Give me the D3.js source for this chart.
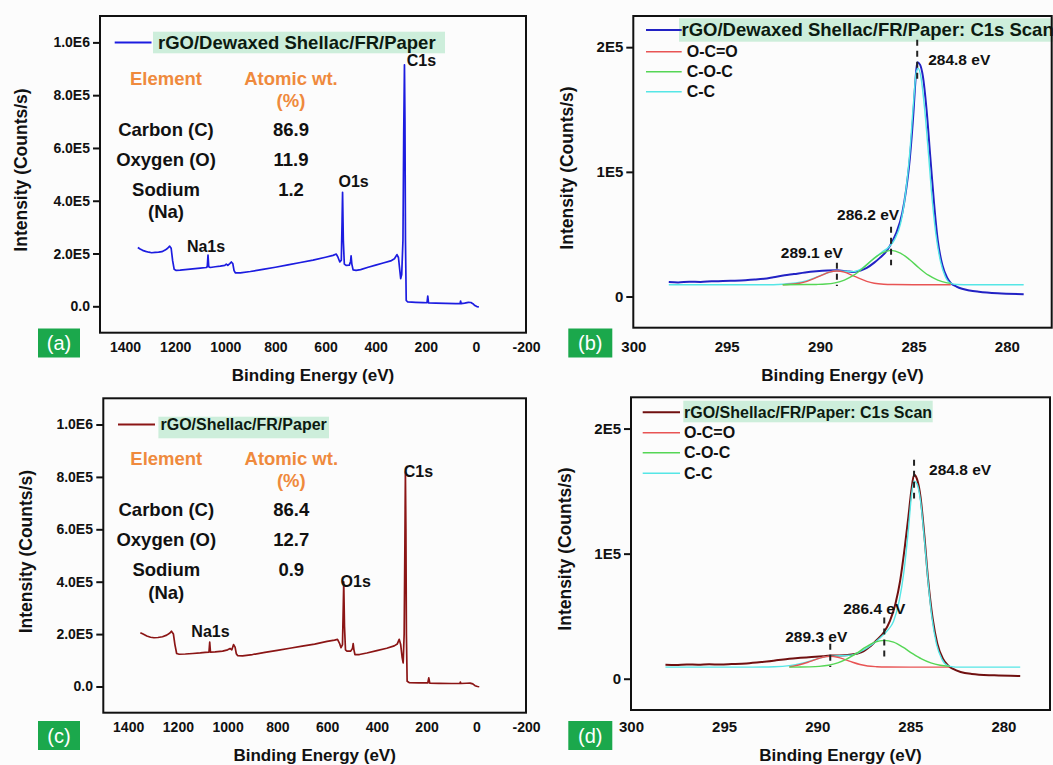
<!DOCTYPE html>
<html>
<head>
<meta charset="utf-8">
<script src="https://cdn.jsdelivr.net/npm/d3@7"></script>
<style>
  html, body { margin: 0; padding: 0; background: #fcfcfc; }
  svg { display: block; font-family: "Liberation Sans", Arial, sans-serif; }
</style>
</head>
<body>
<svg id="fig" width="1053" height="765"></svg>
<script>
// ---------- Survey spectra: [binding energy (eV), intensity (counts/s)] ----------
const surveyDewaxed = [
  [1349,2.23e5],[1340,2.17e5],[1330,2.12e5],[1318,2.08e5],[1305,2.05e5],[1294,2.03e5],[1280,2.04e5],
  [1266,2.05e5],[1253,2.07e5],[1240,2.13e5],[1230,2.2e5],[1222,2.28e5],[1216,2.2e5],[1210,1.72e5],
  [1204,1.4e5],[1196,1.36e5],[1180,1.37e5],[1160,1.39e5],[1140,1.41e5],[1120,1.43e5],[1100,1.45e5],
  [1076,1.47e5],[1072,1.5e5],[1069,1.94e5],[1066,1.5e5],[1060,1.47e5],[1040,1.5e5],[1020,1.52e5],
  [1002,1.55e5],[996,1.6e5],[990,1.55e5],[982,1.62e5],[976,1.68e5],[970,1.62e5],[965,1.35e5],
  [960,1.27e5],[940,1.27e5],[900,1.32e5],[850,1.4e5],[800,1.48e5],[750,1.57e5],[700,1.66e5],
  [650,1.75e5],[600,1.86e5],[570,1.93e5],[557,1.98e5],[550,1.85e5],[543,1.68e5],[537,1.75e5],
  [534,3.2e5],[532,4.32e5],[529,2.5e5],[525,1.6e5],[518,1.55e5],[505,1.56e5],[500,1.7e5],
  [498,1.91e5],[495,1.6e5],[490,1.38e5],[478,1.36e5],[460,1.39e5],[430,1.48e5],[400,1.56e5],
  [370,1.64e5],[340,1.72e5],[325,1.8e5],[315,1.96e5],[309,1.85e5],[304,1.4e5],[300,1.05e5],
  [296,1.2e5],[291,2.5e5],[288,6.5e5],[285,9.15e5],[283,7.0e5],[281,2.5e5],[278,2.2e4],
  [272,1.65e4],[240,1.5e4],[210,1.4e4],[195,1.35e4],[192,3.9e4],[189,1.3e4],[160,1.2e4],
  [120,1.1e4],[80,1.05e4],[63,1.0e4],[61,2.0e4],[59,1.0e4],[45,1.2e4],[30,1.5e4],[20,1.45e4],
  [12,1.0e4],[4,3e3],[-4,-1e3],[-12,-2.5e3]
];
const surveyShellac = [
  [1351,2.05e5],[1340,2.0e5],[1325,1.93e5],[1310,1.88e5],[1296,1.86e5],[1280,1.87e5],[1262,1.9e5],
  [1245,1.96e5],[1232,2.04e5],[1226,2.11e5],[1218,2.0e5],[1212,1.6e5],[1205,1.26e5],[1195,1.23e5],
  [1170,1.24e5],[1140,1.26e5],[1110,1.28e5],[1090,1.3e5],[1075,1.31e5],[1072,1.69e5],[1069,1.31e5],
  [1050,1.32e5],[1020,1.35e5],[1000,1.4e5],[990,1.45e5],[983,1.4e5],[976,1.6e5],[970,1.5e5],
  [965,1.25e5],[960,1.18e5],[940,1.17e5],[900,1.22e5],[850,1.3e5],[800,1.38e5],[750,1.46e5],
  [700,1.54e5],[650,1.62e5],[600,1.72e5],[570,1.77e5],[558,1.8e5],[550,1.65e5],[544,1.48e5],
  [538,1.6e5],[535,3.0e5],[533,3.99e5],[530,2.3e5],[526,1.4e5],[520,1.35e5],[505,1.35e5],
  [498,1.45e5],[495,1.64e5],[492,1.4e5],[488,1.22e5],[470,1.22e5],[440,1.28e5],[400,1.37e5],
  [360,1.46e5],[330,1.55e5],[318,1.62e5],[310,1.8e5],[304,1.6e5],[298,1.1e5],[294,0.9e5],
  [290,2.0e5],[287,5.5e5],[285,8.19e5],[283,6.0e5],[281,2.0e5],[278,2.0e4],[270,1.5e4],
  [230,1.4e4],[195,1.35e4],[191,3.3e4],[187,1.3e4],[150,1.2e4],[100,1.15e4],[66,1.15e4],
  [64,1.7e4],[62,1.15e4],[40,1.25e4],[25,1.3e4],[14,1.0e4],[5,3e3],[-5,0],[-12,-1e3]
];
const surveyTicksX = [1400, 1200, 1000, 800, 600, 400, 200, 0, -200];
const surveyTicksY = [0, 2e5, 4e5, 6e5, 8e5, 1e6];
const surveyTickLabelsY = ["0.0", "2.0E5", "4.0E5", "6.0E5", "8.0E5", "1.0E6"];
const surveyPeakNames = ["C1s", "O1s", "Na1s"];

// ---------- Elemental composition (atomic wt. %) ----------
const elementNames = [["Carbon (C)"], ["Oxygen (O)"], ["Sodium", "(Na)"]];
const atomicDewaxed = ["86.9", "11.9", "1.2"];
const atomicShellac = ["86.4", "12.7", "0.9"];

// ---------- C1s high-resolution scans and fitted components ----------
const c1sDewaxedScan = [
  [298.1,1.16e4],[297.6,1.13e4],[297.0,1.19e4],[296.4,1.17e4],[295.8,1.22e4],[295.2,1.24e4],
  [294.6,1.27e4],[294.0,1.31e4],[293.5,1.36e4],[293.0,1.43e4],[292.5,1.55e4],[291.9,1.7e4],
  [291.4,1.8e4],[290.8,1.93e4],[290.2,2.02e4],[289.6,2.08e4],[289.1,2.1e4],[288.6,2.03e4],
  [288.2,1.96e4],[287.8,2.1e4],[287.5,2.3e4],[287.1,2.72e4],[286.8,3.1e4],[286.5,3.55e4],
  [286.25,4.1e4],[285.95,5.0e4],[285.6,6.7e4],[285.4,8.5e4],[285.2,1.1e5],[285.0,1.48e5],
  [284.9,1.72e5],[284.8,1.88e5],[284.65,1.86e5],[284.5,1.77e5],[284.3,1.5e5],[284.1,1.12e5],
  [283.9,7.5e4],[283.7,4.5e4],[283.45,2.5e4],[283.2,1.5e4],[283.0,1.08e4],[282.7,8.0e3],
  [282.4,6.2e3],[282.0,4.8e3],[281.5,3.8e3],[280.5,2.6e3],[279.1,1.9e3]
];
const c1sDewaxedOCO = [
  [292.0,9.5e3],[291.6,9.85e3],[291.1,1.07e4],[290.7,1.22e4],[290.3,1.45e4],[289.9,1.72e4],
  [289.5,1.96e4],[289.1,2.05e4],[288.7,1.96e4],[288.3,1.72e4],[287.9,1.45e4],[287.5,1.22e4],
  [287.1,1.07e4],[286.6,9.85e3],[286.1,9.6e3],[285.0,9.5e3],[283.0,9.5e3]
];
const c1sDewaxedCOC = [
  [292.0,9.5e3],[290.7,9.6e3],[290.2,9.7e3],[289.7,1.0e4],[289.2,1.1e4],[288.7,1.32e4],
  [288.2,1.71e4],[287.7,2.29e4],[287.2,2.95e4],[286.7,3.49e4],[286.2,3.7e4],[285.7,3.49e4],
  [285.2,2.95e4],[284.7,2.29e4],[284.2,1.71e4],[283.7,1.32e4],[283.2,1.1e4],[283.0,1.05e4]
];
const c1sDewaxedCC = [
  [298.1,9.5e3],[293.0,9.5e3],[292.0,9.9e3],[291.3,1.08e4],[290.7,1.27e4],[290.2,1.55e4],
  [289.7,1.85e4],[289.2,2.05e4],[288.7,2.03e4],[288.2,2.0e4],[287.7,2.32e4],[287.2,2.95e4],
  [286.7,3.55e4],[286.3,4.0e4],[286.0,4.6e4],[285.7,5.8e4],[285.45,8.0e4],[285.2,1.15e5],
  [285.0,1.55e5],[284.85,1.8e5],[284.75,1.83e5],[284.6,1.76e5],[284.4,1.5e5],[284.2,1.15e5],
  [284.0,7.8e4],[283.8,5.0e4],[283.55,2.8e4],[283.3,1.6e4],[283.0,1.05e4],[282.7,9.6e3],
  [282.3,9.5e3],[279.1,9.5e3]
];
const c1sShellacScan = [
  [298.15,1.12e4],[297.6,1.1e4],[297.0,1.14e4],[296.4,1.12e4],[295.8,1.15e4],[295.2,1.14e4],
  [294.6,1.17e4],[293.8,1.22e4],[293.0,1.33e4],[292.2,1.47e4],[291.5,1.6e4],[290.9,1.67e4],
  [290.3,1.73e4],[289.7,1.8e4],[289.3,1.85e4],[288.9,1.86e4],[288.5,1.88e4],[287.9,2.0e4],
  [287.5,2.2e4],[287.2,2.53e4],[286.8,3.1e4],[286.4,3.75e4],[286.1,4.6e4],[285.8,6.0e4],
  [285.55,7.8e4],[285.3,1.05e5],[285.1,1.3e5],[284.95,1.5e5],[284.8,1.63e5],[284.65,1.6e5],
  [284.45,1.45e5],[284.25,1.15e5],[284.05,8.0e4],[283.8,4.8e4],[283.55,2.8e4],[283.25,1.6e4],
  [283.0,1.1e4],[282.7,7.8e3],[282.3,5.4e3],[281.7,3.8e3],[280.5,2.7e3],[279.1,2.1e3]
];
const c1sShellacOCO = [
  [291.5,9.5e3],[291.3,1.0e4],[290.9,1.14e4],[290.5,1.32e4],[290.1,1.53e4],[289.7,1.72e4],
  [289.3,1.79e4],[288.9,1.72e4],[288.5,1.53e4],[288.1,1.32e4],[287.7,1.14e4],[287.3,1.02e4],
  [286.8,9.6e3],[286.3,9.35e3],[285.0,9.3e3],[282.9,9.3e3]
];
const c1sShellacCOC = [
  [291.5,9.3e3],[290.9,9.35e3],[290.4,9.5e3],[289.9,9.9e3],[289.4,1.08e4],[288.9,1.27e4],
  [288.4,1.59e4],[287.9,2.03e4],[287.4,2.52e4],[286.9,2.92e4],[286.4,3.07e4],[285.9,2.92e4],
  [285.4,2.52e4],[284.9,2.03e4],[284.4,1.59e4],[283.9,1.27e4],[283.4,1.08e4],[282.9,9.9e3]
];
const c1sShellacCC = [
  [298.15,9.3e3],[293.5,9.3e3],[292.3,9.6e3],[291.5,1.05e4],[290.8,1.25e4],[290.2,1.5e4],
  [289.6,1.75e4],[289.0,1.82e4],[288.5,1.85e4],[288.0,1.95e4],[287.5,2.3e4],[287.0,2.8e4],
  [286.6,3.3e4],[286.2,3.9e4],[285.9,4.6e4],[285.6,6.2e4],[285.35,8.5e4],[285.1,1.2e5],
  [284.95,1.45e5],[284.8,1.58e5],[284.65,1.56e5],[284.45,1.42e5],[284.25,1.12e5],[284.05,7.8e4],
  [283.85,5.0e4],[283.6,2.8e4],[283.3,1.55e4],[283.0,1.05e4],[282.7,9.5e3],[282.4,9.3e3],
  [279.1,9.3e3]
];
const c1sPeaksDewaxed = [284.8, 286.2, 289.1];
const c1sPeaksShellac = [284.8, 286.4, 289.3];
const c1sComponentNames = ["O-C=O", "C-O-C", "C-C"];
const c1sTicksX = [300, 295, 290, 285, 280];
const c1sTicksY = [0, 1e5, 2e5];
const c1sTickLabelsY = ["0", "1E5", "2E5"];

// ---------- styling ----------
const INK = "#111";
const HILITE = "#cdeedb";
const ORANGE = "#ef8a3d";
const TAG_GREEN = "#1ba84c";
const COMP_COLORS = ["#e85454", "#55d655", "#55e6e6"]; // O-C=O, C-O-C, C-C

const svg = d3.select("#fig");

function label(g, x, y, str, o = {}) {
  return g.append("text")
    .attr("x", x).attr("y", y)
    .attr("dy", "0.35em")
    .attr("text-anchor", o.anchor || "middle")
    .attr("font-size", o.size || 16)
    .attr("font-weight", o.weight || "bold")
    .attr("fill", o.fill || INK)
    .text(str);
}

function panelTag(x0, y0, w, h, str) {
  svg.append("rect").attr("x", x0).attr("y", y0).attr("width", w).attr("height", h).attr("fill", TAG_GREEN);
  label(svg, x0 + w / 2, y0 + h / 2, str, { size: 20, weight: "normal", fill: "#fff" });
}

function frame(L) {
  svg.append("rect")
    .attr("x", L.left).attr("y", L.top)
    .attr("width", L.right - L.left).attr("height", L.bottom - L.top)
    .attr("fill", "none").attr("stroke", INK).attr("stroke-width", 2);
}

function axes(L, x, y, o) {
  const yAx = svg.append("g").attr("transform", `translate(${L.left},0)`)
    .call(d3.axisLeft(y).tickValues(o.ticksY).tickFormat((d, i) => o.tickLabelsY[i])
      .tickSize(7).tickPadding(o.padY));
  const xAx = svg.append("g").attr("transform", `translate(0,${L.bottom})`)
    .call(d3.axisBottom(x).tickValues(o.ticksX).tickFormat(d => d)
      .tickSize(0).tickPadding(o.padX));
  [yAx, xAx].forEach(a => {
    a.select(".domain").remove();
    a.selectAll("line").attr("stroke", INK).attr("stroke-width", 2);
    a.selectAll("text").attr("font-size", o.tickSize).attr("font-weight", "bold")
      .attr("fill", INK).attr("font-family", "Liberation Sans, Arial, sans-serif");
  });
  label(svg, (L.left + L.right) / 2, o.xTitleY, "Binding Energy (eV)", { size: 17 });
  svg.append("text")
    .attr("transform", `translate(${o.yTitleX},${o.yTitleY}) rotate(-90)`)
    .attr("dy", "0.35em").attr("text-anchor", "middle")
    .attr("font-size", 17.5).attr("font-weight", "bold").attr("fill", INK)
    .text("Intensity (Counts/s)");
}

// ---------- survey panel ----------
function drawSurvey(L, data, color, name, atomic, o) {
  const x = d3.scaleLinear().domain([1500, -200]).range([L.left, L.right]);
  const y = d3.scaleLinear().domain([-1.0e5, 1.1e6]).range([L.bottom, L.top]);

  // legend
  const ly = y(1e6);
  svg.append("rect").attr("x", o.hiX0).attr("y", o.hiY0).attr("width", o.hiX1 - o.hiX0)
    .attr("height", o.hiY1 - o.hiY0).attr("fill", HILITE);
  svg.append("line").attr("x1", o.lineX0).attr("x2", o.lineX1).attr("y1", ly).attr("y2", ly)
    .attr("stroke", color).attr("stroke-width", 2);
  label(svg, o.textX, ly, name, { anchor: "start", size: o.legendSize, fill: "#0c1a10" });

  // composition table
  label(svg, o.colA, o.rowHead, "Element", { size: 18.5, fill: ORANGE });
  label(svg, o.colB, o.rowHead, "Atomic wt.", { size: 18.5, fill: ORANGE });
  label(svg, o.colB, o.rowHead + 21.5, "(%)", { size: 18.5, fill: ORANGE });
  elementNames.forEach((lines, i) => {
    const ry = o.rows[i];
    lines.forEach((t, j) => label(svg, o.colA, ry + j * 22.5, t, { size: 18.5 }));
    label(svg, o.colB, ry, atomic[i], { size: 18.5 });
  });

  // spectrum
  svg.append("path").datum(data)
    .attr("d", d3.line().x(d => x(d[0])).y(d => y(d[1])))
    .attr("fill", "none").attr("stroke", color).attr("stroke-width", 1.7)
    .attr("stroke-linejoin", "round");

  // peak names
  o.peakLabels.forEach((p, i) => {
    label(svg, x(p.e) + p.dx, y(p.v), surveyPeakNames[i], { size: 16, anchor: p.anchor || "middle" });
  });

  axes(L, x, y, { ticksY: surveyTicksY, tickLabelsY: surveyTickLabelsY, ticksX: surveyTicksX,
    padY: o.padY, padX: 9, tickSize: 14, xTitleY: o.xTitleY, yTitleX: o.yTitleX, yTitleY: o.yTitleY });
  frame(L);
}

// ---------- C1s panel ----------
function drawC1s(L, scan, comps, peaks, color, title, o) {
  const x = d3.scaleLinear().domain([300, o.xMin]).range([L.left, L.right]);
  const y = d3.scaleLinear().domain([-2.5e4, 2.25e5]).range([L.bottom, L.top]);
  const line = d3.line().x(d => x(d[0])).y(d => y(d[1])).curve(d3.curveMonotoneX);

  // legend
  svg.append("rect").attr("x", o.hiX0).attr("y", o.hiY0).attr("width", o.hiX1 - o.hiX0)
    .attr("height", o.hiY1 - o.hiY0).attr("fill", HILITE);
  svg.append("line").attr("x1", o.lineX0).attr("x2", o.lineX1).attr("y1", o.legRows[0]).attr("y2", o.legRows[0])
    .attr("stroke", color).attr("stroke-width", 2);
  label(svg, o.titleX, o.legRows[0], title, { anchor: "start", size: o.titleSize, fill: "#0c1a10" });
  c1sComponentNames.forEach((n, i) => {
    const ry = o.legRows[i + 1];
    svg.append("line").attr("x1", o.lineX0).attr("x2", o.lineX1).attr("y1", ry).attr("y2", ry)
      .attr("stroke", COMP_COLORS[i]).attr("stroke-width", 1.4);
    label(svg, o.textX, ry, n, { anchor: "start", size: 16 });
  });

  // spectrum and fitted components
  svg.append("path").datum(scan).attr("d", line)
    .attr("fill", "none").attr("stroke", color).attr("stroke-width", 2);
  [2, 0, 1].forEach(i => {
    svg.append("path").datum(comps[i]).attr("d", line)
      .attr("fill", "none").attr("stroke", COMP_COLORS[i]).attr("stroke-width", 1.4);
  });

  // peak position markers
  peaks.forEach((p, i) => {
    const m = o.markers[i];
    svg.append("line").attr("x1", x(p)).attr("x2", x(p)).attr("y1", y(m.top)).attr("y2", y(m.bottom))
      .attr("stroke", "#222").attr("stroke-width", 2).attr("stroke-dasharray", "6,5");
    label(svg, x(p) + m.dx, y(m.labelV), `${p.toFixed(1)} eV`, { size: 15.5, anchor: m.anchor });
  });

  axes(L, x, y, { ticksY: c1sTicksY, tickLabelsY: c1sTickLabelsY, ticksX: c1sTicksX,
    padY: o.padY, padX: o.padX, tickSize: 15, xTitleY: o.xTitleY, yTitleX: o.yTitleX, yTitleY: o.yTitleY });
  frame(L);
}

// (a) survey, dewaxed shellac
drawSurvey({ left: 100, right: 526, top: 16, bottom: 332.7 }, surveyDewaxed, "#1c1ce0",
  "rGO/Dewaxed Shellac/FR/Paper", atomicDewaxed, {
    hiX0: 153, hiX1: 445, hiY0: 31.7, hiY1: 53.3, lineX0: 114.7, lineX1: 151.5, textX: 158, legendSize: 18.5,
    colA: 166, colB: 291, rowHead: 78.7, rows: [130, 160, 189.3],
    peakLabels: [{ e: 284, v: 9.3e5, dx: 2, anchor: "start" }, { e: 532, v: 4.75e5, dx: 11 }, { e: 1069, v: 2.27e5, dx: -2 }],
    padY: 3, xTitleY: 375, yTitleX: 20.7, yTitleY: 170
  });
panelTag(38, 328.5, 42, 29, "(a)");

// (c) survey, shellac
drawSurvey({ left: 103.3, right: 526, top: 398.3, bottom: 712.7 }, surveyShellac, "#8b1515",
  "rGO/Shellac/FR/Paper", atomicShellac, {
    hiX0: 158.4, hiX1: 329, hiY0: 416.7, hiY1: 438.3, lineX0: 118, lineX1: 155, textX: 160.5, legendSize: 16,
    colA: 166.3, colB: 291.3, rowHead: 459, rows: [510, 540, 570],
    peakLabels: [{ e: 285, v: 8.2e5, dx: 13 }, { e: 533, v: 4.0e5, dx: 12 }, { e: 1069, v: 2.1e5, dx: 0 }],
    padY: 3.3, xTitleY: 755, yTitleX: 25.8, yTitleY: 551.7
  });
panelTag(38, 721, 42, 29, "(c)");

// (b) C1s, dewaxed shellac
drawC1s({ left: 633.3, right: 1051.7, top: 16, bottom: 327.7 }, c1sDewaxedScan,
  [c1sDewaxedOCO, c1sDewaxedCOC, c1sDewaxedCC], c1sPeaksDewaxed, "#2222c4",
  "rGO/Dewaxed Shellac/FR/Paper: C1s Scan", {
    xMin: 277.6, hiX0: 679, hiX1: 1053, hiY0: 18.3, hiY1: 41.7, lineX0: 646, lineX1: 681.7,
    titleX: 681.5, titleSize: 18.5, textX: 686.7, legRows: [30, 51.7, 71.7, 91.7],
    markers: [
      { top: 2.06e5, bottom: 1.73e5, dx: 11, labelV: 1.9e5, anchor: "start" },
      { top: 5.6e4, bottom: 2.5e4, dx: -23, labelV: 6.55e4, anchor: "middle" },
      { top: 2.7e4, bottom: 8.5e3, dx: -25, labelV: 3.5e4, anchor: "middle" }
    ],
    padY: 3, padX: 13.5, xTitleY: 375, yTitleX: 566.7, yTitleY: 168
  });
panelTag(568.3, 328.5, 44, 29, "(b)");

// (d) C1s, shellac
drawC1s({ left: 631, right: 1050, top: 397.3, bottom: 710 }, c1sShellacScan,
  [c1sShellacOCO, c1sShellacCOC, c1sShellacCC], c1sPeaksShellac, "#701010",
  "rGO/Shellac/FR/Paper: C1s Scan", {
    xMin: 277.5, hiX0: 683.3, hiX1: 932.7, hiY0: 400.7, hiY1: 422.3, lineX0: 642.7, lineX1: 680,
    titleX: 684, titleSize: 16, textX: 684, legRows: [412.3, 432.7, 452.7, 473.3],
    markers: [
      { top: 1.75e5, bottom: 1.44e5, dx: 15, labelV: 1.67e5, anchor: "start" },
      { top: 4.9e4, bottom: 1.7e4, dx: -10, labelV: 5.6e4, anchor: "middle" },
      { top: 2.8e4, bottom: 9.3e3, dx: -14, labelV: 3.4e4, anchor: "middle" }
    ],
    padY: 3, padX: 11.5, xTitleY: 755, yTitleX: 565, yTitleY: 549
  });
panelTag(568.3, 721, 44, 29, "(d)");
</script>
</body>
</html>
